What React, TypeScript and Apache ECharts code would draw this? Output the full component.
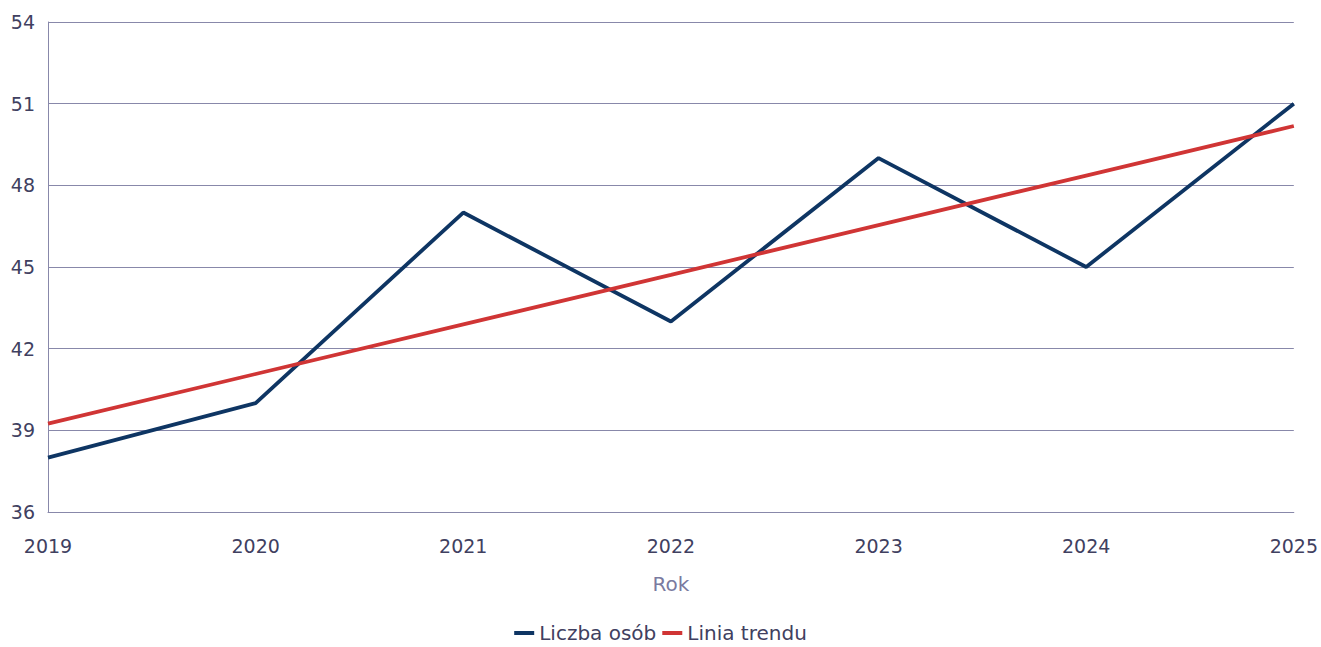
import React, { useEffect, useRef } from "react";
import * as echarts from "echarts";

const years = ["2019", "2020", "2021", "2022", "2023", "2024", "2025"];
const liczbaOsob = [38, 40, 47, 43, 49, 45, 51];
const liniaTrendu = [39.25, 41.07, 42.89, 44.71, 46.54, 48.36, 50.18];
const yMin = 36;
const yMax = 54;
const yStep = 3;

export default function App() {
  const ref = useRef<HTMLDivElement>(null);
  useEffect(() => {
    document.body.style.margin = "0";
    if (!ref.current) return;
    const chart = echarts.init(ref.current, undefined, { renderer: "svg" });
    const font = "DejaVu Sans";
    chart.setOption({
      animation: false,
      textStyle: { fontFamily: font },
      grid: { left: 48, right: 21, top: 22, bottom: 135, containLabel: false },
      legend: {
        bottom: -1,
        left: "center",
        itemWidth: 20,
        itemHeight: 4,
        itemGap: 6,
        icon: "rect",
        textStyle: { fontSize: 20, color: "#404060", fontFamily: font },
        data: ["Liczba osób", "Linia trendu"],
      },
      xAxis: {
        type: "category",
        data: years,
        boundaryGap: false,
        name: "Rok",
        nameLocation: "middle",
        nameGap: 62,
        nameTextStyle: { fontSize: 20, color: "#7a7aa0", fontFamily: font },
        axisLine: { show: true, lineStyle: { color: "#8888aa", width: 1 } },
        axisTick: { show: false },
        axisLabel: { fontSize: 19, color: "#404060", margin: 24, fontFamily: font },
        splitLine: { show: false },
      },
      yAxis: {
        type: "value",
        min: yMin,
        max: yMax,
        interval: yStep,
        axisLine: { show: true, lineStyle: { color: "#8888aa", width: 1 } },
        axisTick: { show: false },
        axisLabel: { fontSize: 19, color: "#404060", margin: 13, fontFamily: font },
        splitLine: { show: true, lineStyle: { color: "#8888aa", width: 1 } },
      },
      series: [
        {
          name: "Liczba osób",
          type: "line",
          data: liczbaOsob,
          symbol: "none",
          lineStyle: { color: "#0e3563", width: 3.8 },
          itemStyle: { color: "#0e3563" },
        },
        {
          name: "Linia trendu",
          type: "line",
          data: liniaTrendu,
          symbol: "none",
          lineStyle: { color: "#d03535", width: 3.8 },
          itemStyle: { color: "#d03535" },
        },
      ],
    });
    return () => chart.dispose();
  }, []);
  return <div ref={ref} style={{ width: 1321, height: 647 }} />;
}
